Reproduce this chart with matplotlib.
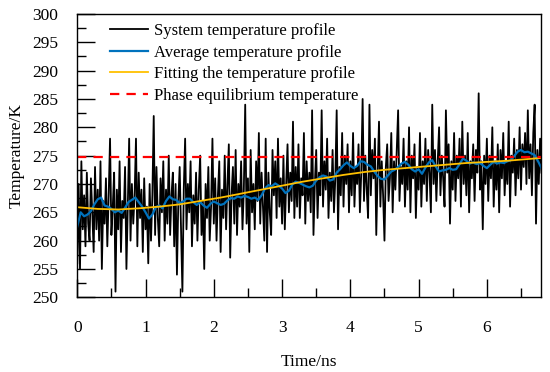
import numpy as np
import matplotlib
matplotlib.use("Agg")
import matplotlib.pyplot as plt
from matplotlib.ticker import MultipleLocator

plt.rcParams['font.family'] = ['Liberation Serif', 'DejaVu Serif']

# system temperature, one sample every 0.02 ns (0 - 6.8 ns)
sys_temp = [
    256, 270, 255, 274, 262, 268, 259, 272, 263, 260, 271, 265, 258, 273, 262, 269, 260, 274, 255, 267,
    263, 271, 259, 268, 278, 261, 266, 272, 251, 269, 262, 274, 258, 267, 264, 273, 255, 266, 278, 260,
    270, 263, 268, 278, 259, 272, 264, 269, 258, 271, 262, 266, 256, 270, 260, 268, 282, 261, 273, 264,
    259, 271, 265, 274, 260, 269, 263, 275, 261, 268, 272, 259, 270, 254, 267, 273, 262, 251, 269, 278,
    262, 270, 265, 274, 259, 268, 263, 272, 260, 269, 275, 261, 267, 255, 270, 264, 273, 260, 266, 278,
    263, 271, 260, 268, 274, 258, 269, 264, 275, 262, 270, 277, 257, 268, 273, 263, 276, 261, 270, 266,
    274, 262, 269, 284, 263, 271, 258, 276, 265, 270, 262, 274, 267, 279, 263, 272, 266, 260, 278, 258,
    272, 265, 261, 276, 268, 274, 264, 278, 266, 271, 263, 275, 262, 270, 277, 265, 272, 267, 281, 264,
    273, 266, 277, 264, 271, 268, 279, 263, 274, 267, 272, 265, 283, 261, 270, 276, 264, 272, 268, 283,
    266, 274, 269, 278, 264, 272, 267, 276, 265, 271, 283, 262, 273, 268, 279, 266, 275, 270, 277, 265,
    274, 268, 279, 266, 273, 270, 277, 265, 272, 285, 267, 275, 269, 264, 284, 268, 276, 271, 278, 261,
    272, 281, 266, 274, 268, 260, 273, 277, 267, 271, 279, 265, 274, 269, 276, 283, 267, 273, 270, 278,
    266, 274, 269, 280, 265, 275, 271, 277, 264, 273, 269, 279, 266, 274, 270, 278, 267, 276, 272, 265,
    284, 270, 276, 267, 274, 280, 268, 275, 271, 266, 283, 272, 277, 263, 274, 269, 279, 267, 275, 271,
    278, 266, 281, 270, 275, 268, 279, 265, 274, 271, 277, 267, 276, 272, 286, 269, 274, 262, 275, 270,
    278, 267, 275, 271, 280, 266, 274, 269, 277, 265, 276, 271, 279, 268, 274, 270, 281, 266, 275, 272,
    278, 268, 276, 271, 280, 269, 277, 273, 279, 270, 283, 271, 277, 268, 279, 284, 263, 276, 270, 278,
    272,
]
sys_time = np.linspace(0, 6.8, len(sys_temp))

# running average, one value every 0.05 ns
avg_temp = [
    262.5, 265.0, 264.3, 264.6, 265.2, 266.4, 267.3, 267.6, 266.2, 266.0,
    265.6, 265.0, 265.3, 264.9, 265.8, 266.8, 267.2, 267.6, 266.8, 266.0,
    265.0, 263.9, 264.6, 265.9, 266.2, 265.7, 267.0, 267.8, 267.3, 267.2,
    266.6, 266.9, 267.4, 267.4, 266.8, 266.3, 266.8, 266.2, 265.8, 266.5,
    266.9, 266.6, 266.3, 266.5, 267.1, 267.5, 267.4, 267.8, 267.6, 267.9,
    267.7, 267.4, 267.6, 267.2, 268.0, 269.2, 269.8, 269.6, 270.1, 269.7,
    269.2, 268.4, 268.8, 269.9, 270.4, 270.2, 269.9, 269.6, 269.4, 269.7,
    270.6, 271.2, 271.5, 271.3, 270.6, 270.8, 272.0, 272.6, 273.3, 273.8,
    273.2, 272.8, 273.2, 274.0, 273.9, 273.4, 273.1, 272.2, 271.4, 270.9,
    270.8, 271.5, 272.2, 272.5, 273.0, 273.6, 273.9, 273.4, 272.6, 272.2,
    272.6, 271.8, 272.9, 273.8, 274.2, 273.1, 272.2, 272.4, 272.5, 272.8,
    272.5, 272.6, 273.5, 274.5, 274.1, 273.6, 273.8, 273.5, 273.7, 273.2,
    272.8, 273.4, 273.9, 273.6, 273.8, 273.7, 274.0, 274.2, 274.9, 275.7,
    276.0, 275.6, 275.7, 275.4, 275.1, 274.0, 272.8,
]
avg_time = np.linspace(0, 6.8, len(avg_temp))

# fitted curve
fit_time = [0.0, 0.3, 0.6, 0.9, 1.2, 1.5, 1.8, 2.1, 2.4, 2.7, 3.0, 3.3,
            3.6, 3.9, 4.2, 4.5, 4.8, 5.1, 5.4, 5.7, 6.0, 6.3, 6.6, 6.8]
fit_temp = [265.9, 265.6, 265.5, 265.7, 266.0, 266.4, 267.0, 267.6, 268.3, 269.0, 269.7, 270.4,
            271.0, 271.6, 272.1, 272.5, 272.8, 273.1, 273.4, 273.7, 273.9, 274.1, 274.4, 274.6]

eq_temp = 274.7

fig = plt.figure(figsize=(5.5, 3.72), dpi=100)
ax = fig.add_axes([0.1405, 0.2008, 0.8440, 0.7616])

ax.plot(sys_time, sys_temp, color='black', lw=1.3, label='System temperature profile')
ax.plot(avg_time, avg_temp, color='#0072BD', lw=1.6, label='Average temperature profile')
ax.plot(fit_time, fit_temp, color='#FFC000', lw=1.3, label='Fitting the temperature profile')
ax.plot([0, 6.8], [eq_temp, eq_temp], color='#FF0000', lw=1.6, dashes=(4.2, 3.2),
        label='Phase equilibrium temperature')

ax.set_xlim(0, 6.8)
ax.set_ylim(250, 300)
ax.xaxis.set_major_locator(MultipleLocator(1))
ax.xaxis.set_minor_locator(MultipleLocator(0.5))
ax.yaxis.set_major_locator(MultipleLocator(5))
ax.yaxis.set_minor_locator(MultipleLocator(2.5))
ax.tick_params(which='major', direction='in', length=13, width=1.0, labelsize=12.5)
ax.tick_params(which='minor', direction='in', length=6.5, width=1.0)
ax.tick_params(axis='x', which='major', pad=16)
ax.tick_params(axis='y', which='major', pad=14)
for s in ax.spines.values():
    s.set_linewidth(1.0)

ax.set_xlabel('Time/ns', fontsize=12.5, labelpad=13)
ax.set_ylabel('Temperature/K', fontsize=12.5, labelpad=5)

ax.legend(loc='upper left', bbox_to_anchor=(0.05, 1.0), frameon=False, fontsize=12,
          handlelength=2.3, handletextpad=0.35, labelspacing=0.33, borderaxespad=0.15)

fig.savefig('out.png', dpi=100)
